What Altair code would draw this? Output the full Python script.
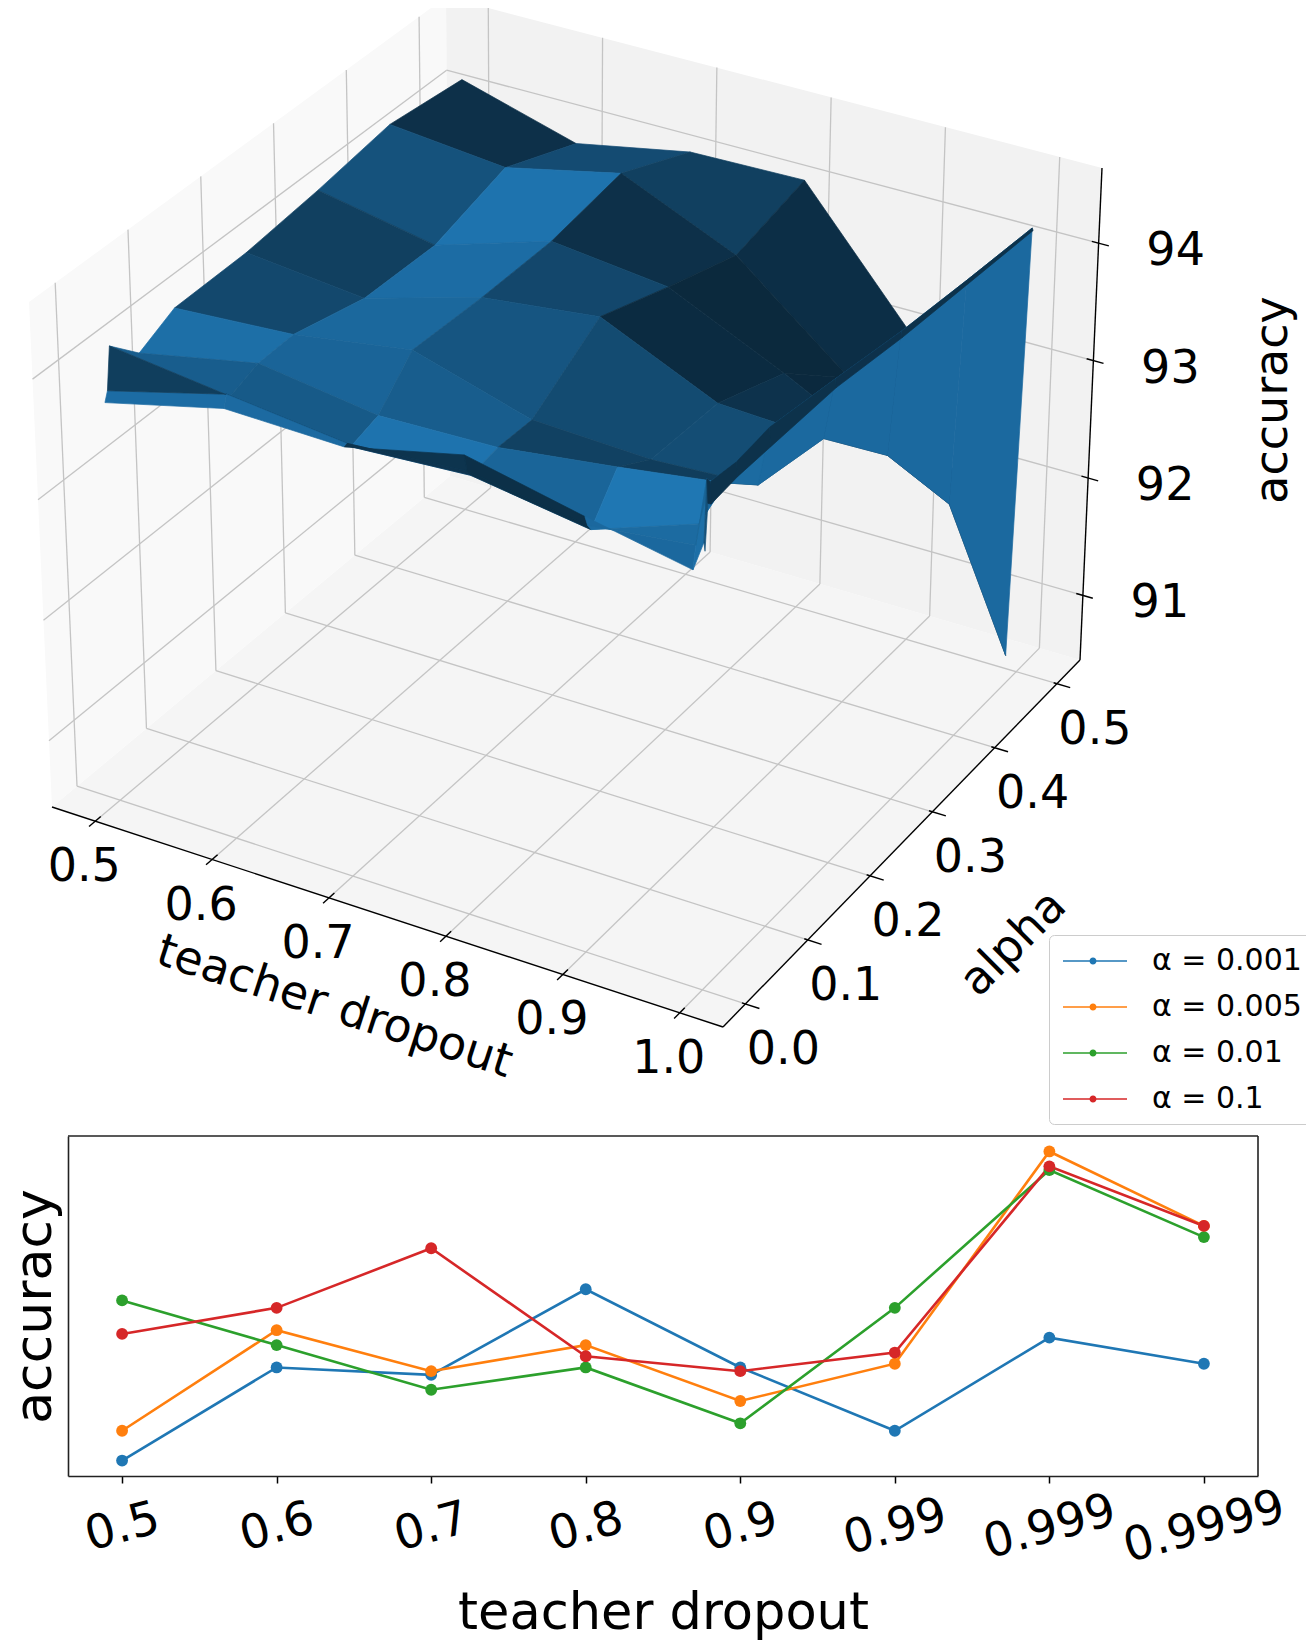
import numpy as np
import pandas as pd
import altair as alt

# ------------------------------------------------------------------
# Values
# ------------------------------------------------------------------
dropouts = [0.5, 0.6, 0.7, 0.8, 0.9, 0.99, 0.999, 0.9999]
dropout_labels = ["0.5", "0.6", "0.7", "0.8", "0.9", "0.99", "0.999", "0.9999"]
alphas = [0.001, 0.005, 0.01, 0.05, 0.1, 0.2, 0.3, 0.4, 0.5]

# accuracy for each alpha (rows of the surface), one value per teacher dropout
acc_alpha_0_001 = [93.75, 94.00, 93.98, 94.21, 94.00, 93.83, 94.08, 94.01]
acc_alpha_0_005 = [93.83, 94.10, 93.99, 94.06, 93.91, 94.01, 94.58, 94.38]
acc_alpha_0_01 = [94.18, 94.06, 93.94, 94.00, 93.85, 94.16, 94.53, 94.35]
acc_alpha_0_05 = [93.94, 94.15, 94.01, 94.04, 94.17, 94.30, 94.50, 94.38]
acc_alpha_0_1 = [94.09, 94.16, 94.32, 94.03, 93.99, 94.04, 94.54, 94.38]
acc_alpha_0_2 = [94.10, 94.00, 94.29, 94.41, 93.97, 93.93, 94.45, 94.38]
acc_alpha_0_3 = [94.17, 93.98, 94.29, 94.18, 93.73, 93.29, 94.35, 94.30]
acc_alpha_0_4 = [94.27, 94.17, 94.39, 93.96, 93.19, 92.37, 94.28, 94.25]
acc_alpha_0_5 = [94.19, 93.90, 94.09, 94.11, 93.01, 90.56, 94.22, 94.20]

line_series = ["α = 0.001", "α = 0.005", "α = 0.01", "α = 0.1"]
line_colors = ["#1f77b4", "#ff7f0e", "#2ca02c", "#d62728"]

x_ticks_3d = [0.5, 0.6, 0.7, 0.8, 0.9, 1.0]
x_tick_labels_3d = ["0.5", "0.6", "0.7", "0.8", "0.9", "1.0"]
alpha_ticks_3d = [0.0, 0.1, 0.2, 0.3, 0.4, 0.5]
alpha_tick_labels_3d = ["0.0", "0.1", "0.2", "0.3", "0.4", "0.5"]
z_ticks_3d = [91, 92, 93, 94]
z_tick_labels_3d = ["91", "92", "93", "94"]

# ------------------------------------------------------------------
# Layout / view of the 3-D axes (matplotlib default elev=30, azim=-60)
# ------------------------------------------------------------------
W, H = 1298, 1634
PAGE = 8
XLIM = (0.463, 1.037)
YLIM = (-0.036, 0.537)
ZLIM = (90.45, 94.64)
CORNERS = {
    (0, 0, 0): (52, 807), (1, 0, 0): (723, 1027), (1, 1, 0): (1080, 660), (0, 1, 0): (450, 476),
    (0, 0, 1): (29, 302), (1, 0, 1): (726, 509), (1, 1, 1): (1102, 168), (0, 1, 1): (446, -3),
}
EYE = np.array([4 * 0.433, -4 * 0.75, 3 * 0.5])


def project(x, a, z):
    u = (x - XLIM[0]) / (XLIM[1] - XLIM[0])
    v = (a - YLIM[0]) / (YLIM[1] - YLIM[0])
    w = (z - ZLIM[0]) / (ZLIM[1] - ZLIM[0])
    sx = sy = 0.0
    for (i, j, k), (px, py) in CORNERS.items():
        wt = (u if i else 1 - u) * (v if j else 1 - v) * (w if k else 1 - w)
        sx += wt * px
        sy += wt * py
    depth = EYE @ np.array([u, v, w])
    return sx - PAGE, sy - PAGE, depth


SX = alt.Scale(domain=[0, W], range=[0, W], nice=False, zero=False)
SY = alt.Scale(domain=[0, H], range=[0, H], nice=False, zero=False)
FONT = "DejaVu Sans"


def polygon_frame(polys):
    rows = []
    for pid, (verts, col) in enumerate(polys):
        for k, p in enumerate(verts):
            sx, sy, _ = project(*p)
            rows.append({"pid": f"p{pid:03d}", "k": k, "sx": sx, "sy": sy, "col": col})
    return pd.DataFrame(rows)


def polygon_layer(df, stroke_width):
    return alt.Chart(df).mark_line(
        interpolate="linear-closed", strokeWidth=stroke_width, strokeJoin="round"
    ).encode(
        x=alt.X("sx:Q", scale=SX, axis=None),
        y=alt.Y("sy:Q", scale=SY, axis=None),
        detail="pid:N",
        order="k:Q",
        fill=alt.Fill("col:N", scale=None),
        stroke=alt.Stroke("col:N", scale=None),
    )


def segment_frame(segs):
    rows = []
    for p, q in segs:
        x1, y1, _ = project(*p)
        x2, y2, _ = project(*q)
        rows.append({"sx": x1, "sy": y1, "sx2": x2, "sy2": y2})
    return pd.DataFrame(rows)


def rule_layer(df, color, width):
    return alt.Chart(df).mark_rule(color=color, strokeWidth=width).encode(
        x=alt.X("sx:Q", scale=SX, axis=None),
        y=alt.Y("sy:Q", scale=SY, axis=None),
        x2="sx2:Q",
        y2="sy2:Q",
    )


def text_frame(points, labels, offset=(0, 0)):
    rows = []
    for p, lab in zip(points, labels):
        sx, sy, _ = project(*p)
        rows.append({"sx": sx + offset[0], "sy": sy + offset[1], "label": lab})
    return pd.DataFrame(rows)


def text_layer(df, size, angle=0):
    return alt.Chart(df).mark_text(
        font=FONT, fontSize=size, angle=angle,
        align="center", baseline="middle", color="black",
    ).encode(
        x=alt.X("sx:Q", scale=SX, axis=None),
        y=alt.Y("sy:Q", scale=SY, axis=None),
        text="label:N",
    )


x0, x1 = XLIM
y0, y1 = YLIM
z0, z1 = ZLIM

# panes
panes = polygon_frame([
    ([(x0, y0, z0), (x1, y0, z0), (x1, y1, z0), (x0, y1, z0)], "#f5f5f5"),
    ([(x0, y0, z0), (x0, y1, z0), (x0, y1, z1), (x0, y0, z1)], "#f9f9f9"),
    ([(x0, y1, z0), (x1, y1, z0), (x1, y1, z1), (x0, y1, z1)], "#f2f2f2"),
])

# grid lines
grid = []
for xt in x_ticks_3d:
    grid.append(((xt, y0, z0), (xt, y1, z0)))
    grid.append(((xt, y1, z0), (xt, y1, z1)))
for at in alpha_ticks_3d:
    grid.append(((x0, at, z0), (x1, at, z0)))
    grid.append(((x0, at, z0), (x0, at, z1)))
for zt in z_ticks_3d:
    grid.append(((x0, y0, zt), (x0, y1, zt)))
    grid.append(((x0, y1, zt), (x1, y1, zt)))
grid_df = segment_frame(grid)

axis_df = segment_frame([
    ((x0, y0, z0), (x1, y0, z0)),
    ((x1, y0, z0), (x1, y1, z0)),
    ((x1, y1, z0), (x1, y1, z1)),
])
ticks = []
for xt in x_ticks_3d:
    ticks.append(((xt, y0 - 0.009, z0), (xt, y0 + 0.008, z0)))
for at in alpha_ticks_3d:
    ticks.append(((x1 - 0.003, at, z0), (x1 + 0.012, at, z0)))
for zt in z_ticks_3d:
    ticks.append(((x1 - 0.006, y1, zt), (x1 + 0.009, y1, zt)))
ticks_df = segment_frame(ticks)

# surface (matplotlib-like shading)
Z = np.array([acc_alpha_0_001, acc_alpha_0_005, acc_alpha_0_01, acc_alpha_0_05, acc_alpha_0_1,
              acc_alpha_0_2, acc_alpha_0_3, acc_alpha_0_4, acc_alpha_0_5])
az, alt_deg = np.radians(90 - 225), np.radians(19.4712)
light = np.array([np.cos(az) * np.cos(alt_deg), np.sin(az) * np.cos(alt_deg), np.sin(alt_deg)])
base = np.array([31, 119, 180]) / 255.0
faces = []
for i in range(len(alphas) - 1):
    for j in range(len(dropouts) - 1):
        verts = np.array([
            [dropouts[j], alphas[i], Z[i, j]],
            [dropouts[j + 1], alphas[i], Z[i, j + 1]],
            [dropouts[j + 1], alphas[i + 1], Z[i + 1, j + 1]],
            [dropouts[j], alphas[i + 1], Z[i + 1, j]],
        ])
        n = np.cross(verts[0] - verts[1], verts[1] - verts[2])
        shade = float(n @ light / np.linalg.norm(n))
        f = 0.3 + 0.7 * (shade + 1) / 2
        rgb = np.clip(base * f, 0, 1)
        col = "#%02x%02x%02x" % tuple(int(round(c * 255)) for c in rgb)
        depth = np.mean([project(*p)[2] for p in verts])
        faces.append((depth, [tuple(p) for p in verts], col))
faces.sort(key=lambda t: t[0])
surface_df = polygon_frame([(v, c) for _, v, c in faces])

xlab_df = text_frame([(xt, y0, z0) for xt in x_ticks_3d], x_tick_labels_3d, (-11, 46))
alab_df = text_frame([(x1, at, z0) for at in alpha_ticks_3d], alpha_tick_labels_3d, (38, 46))
zlab_df = text_frame([(x1, y1, zt) for zt in z_ticks_3d], z_tick_labels_3d, (77, 8))
xt_df = text_frame([(0.5 * (x0 + x1), y0, z0)], ["teacher dropout"], (-53, 90))
at_df = text_frame([(x1, 0.5 * (y0 + y1), z0)], ["alpha"], (112, 100))
zt_df = text_frame([(x1, y1, 0.5 * (z0 + z1))], ["accuracy"], (182, -14))

three_d = alt.layer(
    polygon_layer(panes, 0),
    rule_layer(grid_df, "#c4c4c4", 1.3),
    rule_layer(axis_df, "#000000", 1.4),
    rule_layer(ticks_df, "#000000", 1.4),
    polygon_layer(surface_df, 0.7),
    text_layer(xlab_df, 46),
    text_layer(alab_df, 46),
    text_layer(zlab_df, 46),
    text_layer(xt_df, 46, angle=18),
    text_layer(at_df, 46, angle=315),
    text_layer(zt_df, 46, angle=270),
)

# ------------------------------------------------------------------
# Lower 2-D line chart
# ------------------------------------------------------------------
series_values = [acc_alpha_0_001, acc_alpha_0_005, acc_alpha_0_01, acc_alpha_0_1]
line_df = pd.DataFrame([
    {"pos": p, "acc": v, "series": s, "sid": k}
    for k, (s, vals) in enumerate(zip(line_series, series_values))
    for p, v in enumerate(vals)
])
lo, hi = line_df["acc"].min(), line_df["acc"].max()
ylo, yhi = lo - 0.05 * (hi - lo), hi + 0.05 * (hi - lo)
n = len(dropouts)
xlo, xhi = -0.05 * (n - 1), (n - 1) * 1.05

PLOT_L, PLOT_R, PLOT_T, PLOT_B = 60, 1250, 1128, 1468
LX = alt.Scale(domain=[xlo, xhi], range=[PLOT_L, PLOT_R], nice=False, zero=False)
LY = alt.Scale(domain=[ylo, yhi], range=[PLOT_B, PLOT_T], nice=False, zero=False)

label_expr = "[" + ",".join("'%s'" % s for s in dropout_labels) + "][datum.value]"
AX_X = alt.Axis(
    orient="bottom", offset=PLOT_B - H, values=list(range(n)), labelExpr=label_expr,
    labelAngle=345, labelFont=FONT, labelFontSize=47, labelColor="black",
    labelPadding=44, labelAlign="center", labelBaseline="middle",
    labelFlush=False, labelOverlap=False, labelBound=False,
    tickSize=7, tickWidth=1.5, tickColor="black",
    domainColor="#222222", domainWidth=1.6, grid=False,
    title="teacher dropout", titleFont=FONT, titleFontSize=51, titleFontWeight="normal",
    titleColor="black", titleY=152, titleBaseline="alphabetic",
)
AX_Y = alt.Axis(
    orient="left", offset=-PLOT_L, labels=False, ticks=False,
    domainColor="#222222", domainWidth=1.6, grid=False,
    title="accuracy", titleFont=FONT, titleFontSize=52, titleFontWeight="normal",
    titleColor="black", titleX=-18, titleBaseline="alphabetic", titleAngle=270,
)

frame_df = pd.DataFrame([
    {"pos": xlo, "pos_end": xhi, "acc": yhi, "acc_end": yhi},
    {"pos": xhi, "pos_end": xhi, "acc": ylo, "acc_end": yhi},
])
frame = alt.Chart(frame_df).mark_rule(color="#222222", strokeWidth=1.6).encode(
    x=alt.X("pos:Q", scale=LX, axis=AX_X),
    y=alt.Y("acc:Q", scale=LY, axis=AX_Y),
    x2="pos_end:Q",
    y2="acc_end:Q",
)

lines = alt.Chart(line_df).mark_line(strokeWidth=2.6).encode(
    x=alt.X("pos:Q", scale=LX, axis=AX_X),
    y=alt.Y("acc:Q", scale=LY, axis=AX_Y),
    stroke=alt.Stroke("sid:N", scale=alt.Scale(domain=list(range(len(line_series))), range=line_colors),
                      legend=None),
)

SYMBOL = ("M -0.75 -0.045 L 3.25 -0.045 L 3.25 0.045 L -0.75 0.045 Z "
          "M 1.345 0 A 0.22 0.22 0 1 1 0.905 0 A 0.22 0.22 0 1 1 1.345 0 Z")
dots = alt.Chart(line_df).mark_circle(size=140, opacity=1).encode(
    x=alt.X("pos:Q", scale=LX, axis=AX_X),
    y=alt.Y("acc:Q", scale=LY, axis=AX_Y),
    color=alt.Color(
        "series:N",
        scale=alt.Scale(domain=line_series, range=line_colors),
        legend=alt.Legend(
            title=None, orient="none", legendX=1041, legendY=927, padding=10,
            symbolType=SYMBOL, symbolSize=1024, symbolStrokeWidth=0, symbolOpacity=1,
            labelFont=FONT, labelFontSize=30, labelColor="black", labelOffset=61,
            labelLimit=400, rowPadding=15, fillColor="white", strokeColor="#cccccc",
            cornerRadius=5,
        ),
    ),
)

lower = alt.layer(frame, lines, dots)

chart = alt.layer(three_d, lower).resolve_scale(
    x="independent", y="independent"
).properties(
    width=W, height=H, padding=0, background="white",
    autosize=alt.AutoSizeParams(type="none"),
).configure_view(stroke=None)

chart.save("out.html", embed_options={"renderer": "svg", "actions": False})
